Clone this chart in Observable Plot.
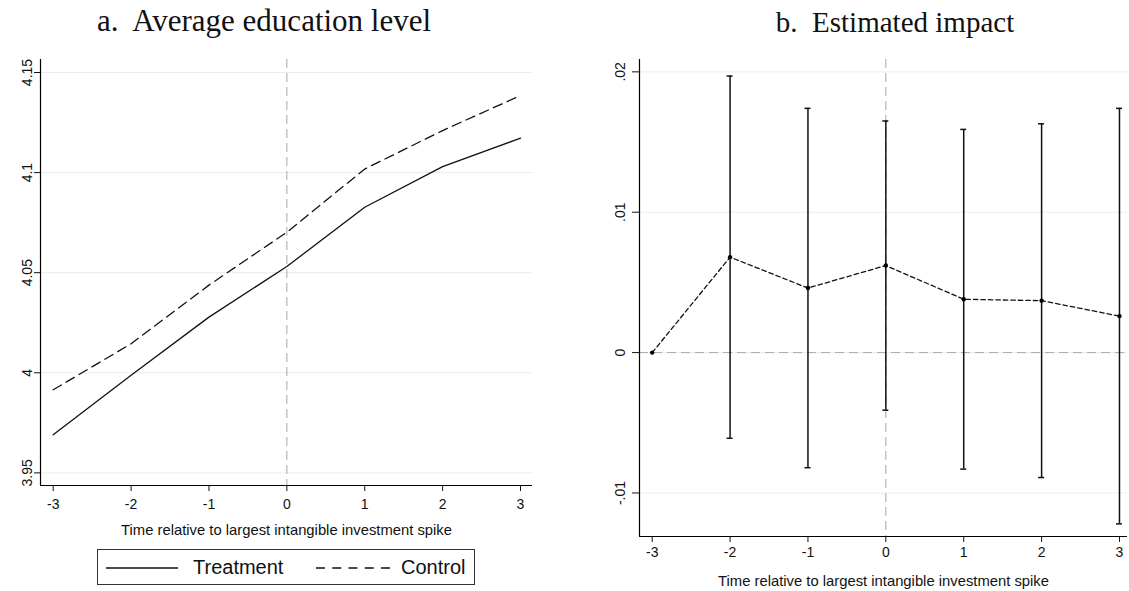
<!DOCTYPE html>
<html>
<head>
<meta charset="utf-8">
<script src="https://cdn.jsdelivr.net/npm/d3@7"></script>
<script src="https://cdn.jsdelivr.net/npm/@observablehq/plot@0.6"></script>
<style>
  html, body { margin: 0; padding: 0; background: #fff; }
  #wrap { position: relative; width: 1129px; height: 591px; overflow: hidden; background: #fff; }
  .ttl { position: absolute; top: 7px; font-family: "Liberation Serif", "Times New Roman", serif; font-size: 30px; line-height: 30px; color: #111; text-align: center; white-space: pre; }
  .panel { position: absolute; top: 0; }
  #legend { position: absolute; left: 97px; top: 549px; width: 378px; height: 36px; border: 1px solid #333; box-sizing: border-box;
            font-family: "Liberation Sans", Arial, sans-serif; font-size: 20px; color: #111; }
  #legend svg { position: absolute; left: 0; top: 0; }
  #legend span { position: absolute; top: 5px; line-height: 24px; }
  [aria-label="x-axis label"] { font-size: 14.8px; }
</style>
</head>
<body>
<div id="wrap">
  <div class="ttl" style="left:0px;width:528px;font-size:31px;top:6px;">a.  Average education level</div>
  <div class="ttl" style="left:680px;width:430px;font-size:29px;">b.  Estimated impact</div>
  <div class="panel" id="left" style="left:0px;"></div>
  <div class="panel" id="right" style="left:564px;"></div>
  <div id="legend"></div>
</div>
<script>
// ---------- data ----------
const years = [-3, -2, -1, 0, 1, 2, 3];
const treatment = [3.969, 3.9988, 4.0278, 4.0531, 4.0827, 4.103, 4.1172];
const control = [3.9915, 4.0145, 4.0438, 4.0702, 4.1018, 4.121, 4.1385];

const estimate = [0, 0.0068, 0.0046, 0.0062, 0.0038, 0.0037, 0.0026];
const ciLow = [null, -0.0061, -0.0082, -0.0041, -0.0083, -0.0089, -0.0122];
const ciHigh = [null, 0.0197, 0.0174, 0.0165, 0.0159, 0.0163, 0.0174];

const leftYTicks = [3.95, 4, 4.05, 4.1, 4.15];
const leftYLabels = ["3.95", "4", "4.05", "4.1", "4.15"];
const rightYTicks = [-0.01, 0, 0.01, 0.02];
const rightYLabels = ["-.01", "0", ".01", ".02"];
const xLabel = "Time relative to largest intangible investment spike";
const seriesNames = ["Treatment", "Control"];

// ---------- styles ----------
const font = "'Liberation Sans', Arial, sans-serif";
const gridColor = "#e6eeef";
const refColor = "#a8a8a8";

const leftXDomain = [-3.163, 3.154];
const leftYDomain = [3.9437, 4.1565];
const rightXDomain = [-3.163, 3.103];
const rightYDomain = [-0.0131, 0.02088];

const leftData = years.map((t, i) => ({t, treatment: treatment[i], control: control[i]}));
const rightData = years.map((t, i) => ({t, est: estimate[i], lo: ciLow[i], hi: ciHigh[i]}));
const bars = rightData.filter(d => d.lo != null);

const fmtX = d => String(d);

const left = Plot.plot({
  width: 560, height: 545,
  marginLeft: 40, marginRight: 28, marginTop: 59, marginBottom: 60,
  style: {fontFamily: font, fontSize: "14px", color: "#111", background: "transparent"},
  x: {domain: leftXDomain},
  y: {domain: leftYDomain},
  marks: [
    Plot.gridY(leftYTicks, {stroke: gridColor, strokeOpacity: 1, strokeWidth: 1}),
    Plot.ruleX([0], {stroke: refColor, strokeDasharray: "9,5", strokeWidth: 1}),
    Plot.line(leftData, {x: "t", y: "treatment", stroke: "#111", strokeWidth: 1.3}),
    Plot.line(leftData, {x: "t", y: "control", stroke: "#111", strokeWidth: 1.3, strokeDasharray: "9.5,5.5"}),
    Plot.axisY(leftYTicks, {tickSize: 6, tickFormat: () => "", label: null, stroke: "#111"}),
    Plot.text(leftYTicks, {y: d => d, text: (d, i) => leftYLabels[i], frameAnchor: "left", rotate: -90,
      textAnchor: "middle", lineAnchor: "bottom", dx: -9, fontSize: 14, fill: "#111"}),
    Plot.axisX(years, {tickSize: 6, tickPadding: 8, tickFormat: fmtX, fontSize: 14, stroke: "#111",
      label: xLabel, labelAnchor: "center", labelOffset: 49, labelArrow: "none"}),
    Plot.ruleY([leftYDomain[0]], {stroke: "#000", strokeWidth: 1.2}),
    Plot.ruleX([leftXDomain[0]], {stroke: "#000", strokeWidth: 1.2})
  ]
});
document.getElementById("left").appendChild(left);

const right = Plot.plot({
  width: 565, height: 591,
  marginLeft: 75, marginRight: 2, marginTop: 59, marginBottom: 55,
  style: {fontFamily: font, fontSize: "14px", color: "#111", background: "transparent"},
  x: {domain: rightXDomain},
  y: {domain: rightYDomain},
  marks: [
    Plot.gridY(rightYTicks, {stroke: gridColor, strokeOpacity: 1, strokeWidth: 1}),
    Plot.ruleX([0], {stroke: refColor, strokeDasharray: "9,5", strokeWidth: 1}),
    Plot.ruleY([0], {stroke: refColor, strokeDasharray: "9,5", strokeWidth: 1}),
    Plot.ruleX(bars, {x: "t", y1: "lo", y2: "hi", stroke: "#111", strokeWidth: 1.5}),
    Plot.ruleY(bars, {y: "hi", x1: "t", x2: "t", insetLeft: -3, insetRight: -3, stroke: "#111", strokeWidth: 1.5}),
    Plot.ruleY(bars, {y: "lo", x1: "t", x2: "t", insetLeft: -3, insetRight: -3, stroke: "#111", strokeWidth: 1.5}),
    Plot.line(rightData, {x: "t", y: "est", stroke: "#111", strokeWidth: 1.3, strokeDasharray: "4.5,3"}),
    Plot.dot(rightData, {x: "t", y: "est", r: 2.2, fill: "#000", stroke: "none"}),
    Plot.axisY(rightYTicks, {tickSize: 7, tickFormat: () => "", label: null, stroke: "#111"}),
    Plot.text(rightYTicks, {y: d => d, text: (d, i) => rightYLabels[i], frameAnchor: "left", rotate: -90,
      textAnchor: "middle", lineAnchor: "bottom", dx: -15, fontSize: 14, fill: "#111"}),
    Plot.axisX(years, {tickSize: 6, tickPadding: 5, tickFormat: fmtX, fontSize: 14, stroke: "#111",
      label: xLabel, labelAnchor: "center", labelOffset: 49, labelArrow: "none"}),
    Plot.ruleY([rightYDomain[0]], {stroke: "#000", strokeWidth: 1.2}),
    Plot.ruleX([rightXDomain[0]], {stroke: "#000", strokeWidth: 1.2})
  ]
});
document.getElementById("right").appendChild(right);

// ---------- legend ----------
const lg = document.getElementById("legend");
lg.innerHTML = `
  <svg width="378" height="36">
    <line x1="8" x2="80" y1="18" y2="18" stroke="#111" stroke-width="1.3"/>
    <line x1="218" x2="292" y1="18" y2="18" stroke="#111" stroke-width="1.3" stroke-dasharray="9,7.25"/>
  </svg>
  <span style="left:95px">${seriesNames[0]}</span>
  <span style="left:303px">${seriesNames[1]}</span>`;
</script>
</body>
</html>
